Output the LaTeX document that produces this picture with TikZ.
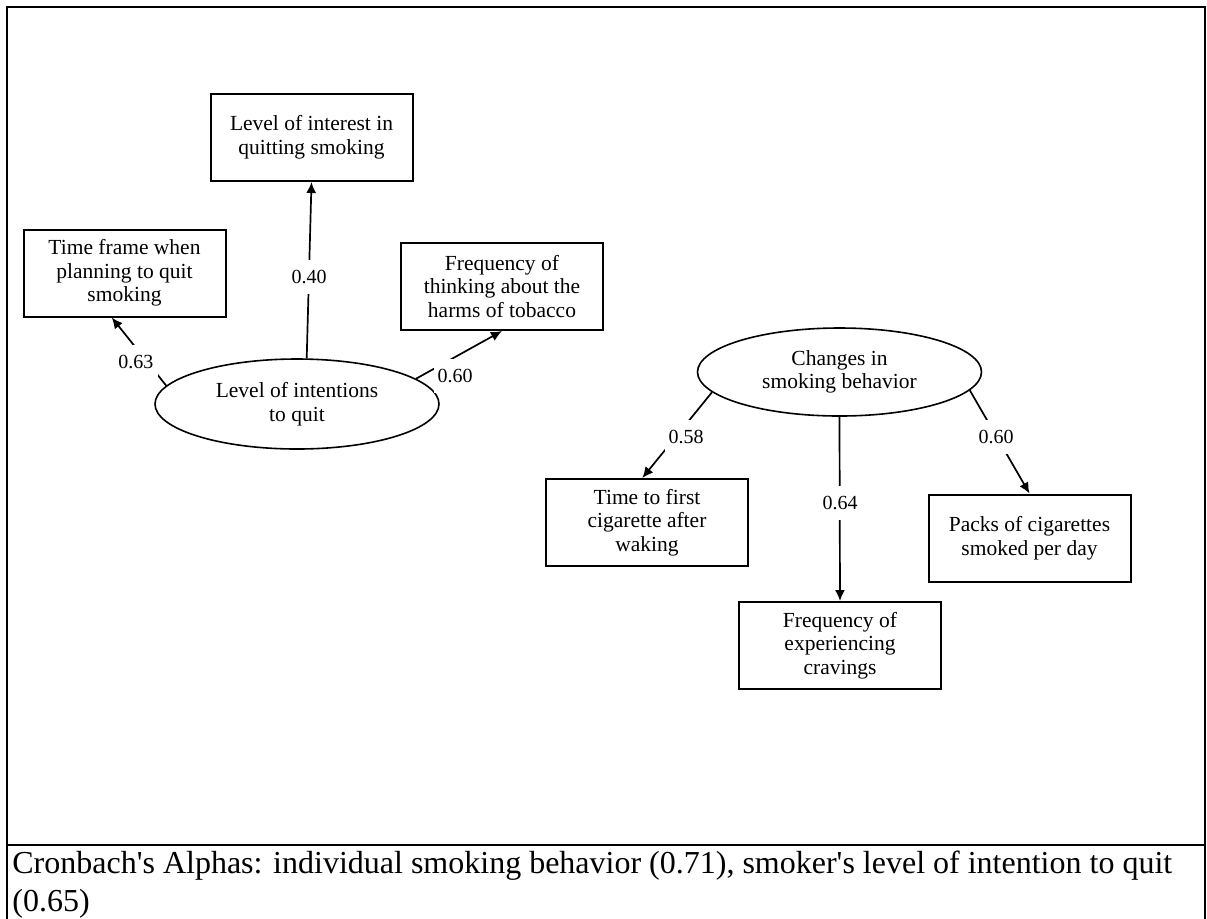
\documentclass[tikz,border=0pt]{standalone}
\usepackage{fontspec}
\setmainfont{Liberation Serif}
\usetikzlibrary{shapes.geometric,arrows.meta}
\begin{document}
\begin{tikzpicture}[x=0.5pt,y=-0.5pt,
  box/.style={draw,line width=1pt,rectangle,minimum width=101pt,minimum height=43.5pt,align=center,inner sep=1pt,font=\fontsize{10.75}{11.8}\selectfont},
  latent/.style={draw,line width=0.8pt,ellipse,minimum width=142pt,minimum height=45pt,align=center,inner sep=0pt,font=\fontsize{10.75}{11.8}\selectfont},
  conn/.style={line width=0.85pt,-{Latex[length=5.5pt,width=5pt]}},
  coef/.style={fill=white,inner xsep=2pt,inner ysep=5pt,font=\fontsize{10}{12}\selectfont},
  frameline/.style={line width=1.2pt}
]
\useasboundingbox (0,0) rectangle (1207,918);
% frame
\draw[frameline] (7,930) -- (7,7) -- (1205,7) -- (1205,930);
\draw[frameline] (7,845) -- (1205,845);
% nodes
\node[box] (finterest) at (311.5,137.5) {Level of interest in\\quitting smoking};
\node[box] (ftime) at (124.5,273) {Time frame when\\planning to quit\\smoking};
\node[box] (fharm) at (502,286.5) {Frequency of\\thinking about the\\harms of tobacco};
\node[latent] (lint) at (297,404) {Level of intentions\\to quit};
\node[latent,minimum height=44pt] (cchange) at (839.5,372) {Changes in\\smoking behavior};
\node[box] (tfirst) at (647,522.5) {Time to first\\cigarette after\\waking};
\node[box] (packs) at (1029.5,538) {Packs of cigarettes\\smoked per day};
\node[box] (craving) at (840,645.5) {Frequency of\\experiencing\\cravings};
% connectors
\draw[conn] (lint.78.7) -- (finterest.south) node[coef] at (309,277) {0.40};
\draw[conn] (lint.172) -- (ftime.-106) node[coef] at (136,362) {0.63};
\draw[conn] (lint.12) -- (fharm.south) node[coef] at (455,376) {0.60};
\draw[conn] (cchange.189) -- (tfirst.96) node[coef] at (686,437) {0.58};
\draw[conn] (cchange.south) -- (craving.north) node[coef] at (840,503) {0.64};
\draw[conn] (cchange.-8.5) -- (packs.north) node[coef] at (996,437) {0.60};
% caption
\node[anchor=base west,inner sep=0pt] (cap) at (12,873) {\parbox[t]{595pt}{\raggedright\fontsize{16}{19}\selectfont Cronbach\textquotesingle s Alphas: individual smoking behavior (0.71), smoker\textquotesingle s level of intention to quit\\(0.65)}};
\end{tikzpicture}
\end{document}
